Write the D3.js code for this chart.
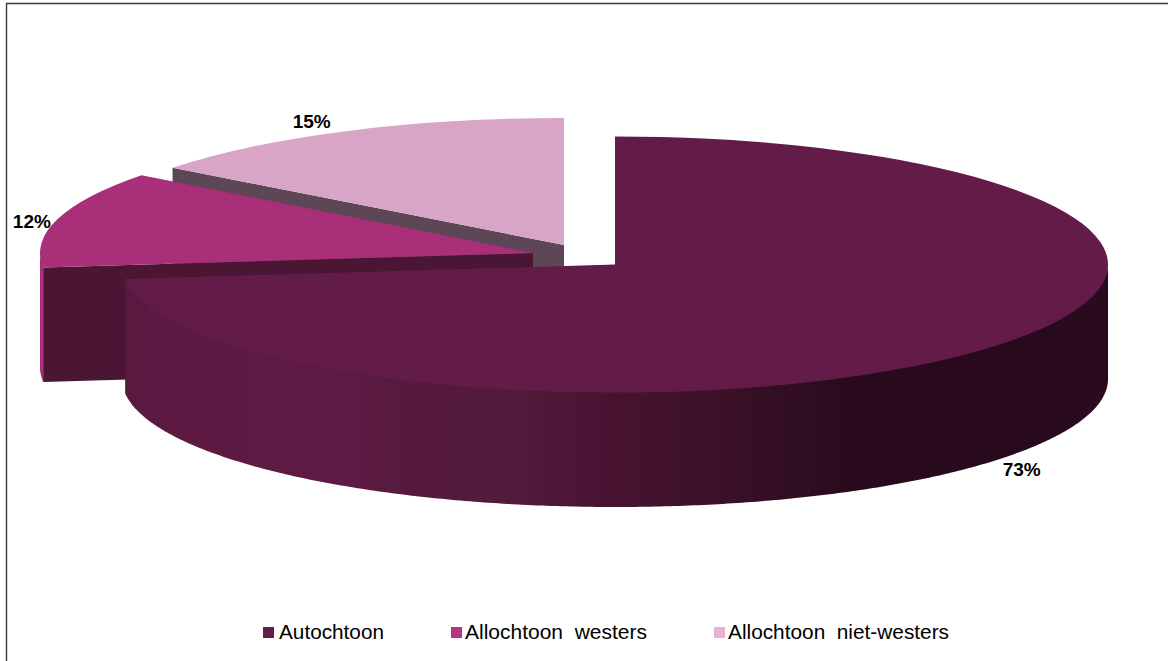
<!DOCTYPE html>
<html>
<head>
<meta charset="utf-8">
<script src="https://d3js.org/d3.v7.min.js"></script>
<style>
  html, body { margin: 0; padding: 0; background: #fff; }
  svg { display: block; }
  text { font-family: "Liberation Sans", Arial, sans-serif; fill: #000; }
  .pct { font-size: 19px; font-weight: bold; text-anchor: middle; }
  .legend { font-size: 21px; white-space: pre; }
</style>
</head>
<body>
<script>
var categories = ["Autochtoon", "Allochtoon  westers", "Allochtoon  niet-westers"];
var values = [73.2, 12.2, 14.6];
var valueLabels = ["73%", "12%", "15%"];

var topColors = ["#621c47", "#a82f78", "#d9a5c6"];
var faceColors = ["#4b1534", "#4b1534", "#5d4656"];
var legendColors = ["#651d4a", "#b83282", "#e8b3d3"];

//chart frame dimensions
var width = 1168,
    height = 661,
    rx = 493,
    ry = 128,
    depth = 114.5;

//exploded slices each have their own centre
var centers = [[615, 264.5], [533, 253], [564, 245]];
var labelShift = [[39, 6], [-26, 3], [-34, -9]];
var legendX = [263, 451, 714];
var legendTextX = [16, 14, 14];
var legendTextWidth = [105, 182, 221];

var svg = d3.select("body")
    .append("svg")
    .attr("width", width)
    .attr("height", height);

//gradient on the outer wall of the big slice
var grad = svg.append("defs").append("linearGradient")
    .attr("id", "wall")
    .attr("gradientUnits", "userSpaceOnUse")
    .attr("x1", 124).attr("x2", 1108)
    .attr("y1", 0).attr("y2", 0);
grad.selectAll("stop")
    .data([[0, "#58193f"], [0.03, "#5c1a42"], [0.23, "#5e1a44"], [0.29, "#561a3d"], [0.4, "#521a3b"],
           [0.49, "#481332"], [0.58, "#3f1229"], [0.7, "#2e0d20"], [0.75, "#280a1c"], [1, "#2a0a1e"]])
    .enter()
    .append("stop")
    .attr("offset", function(d){ return d[0]; })
    .attr("stop-color", function(d){ return d[1]; });

//frame, only left and top are in the picture
svg.append("path")
    .attr("d", "M6.5,661V3.5H1168")
    .attr("fill", "none")
    .attr("stroke", "#3a3a3a")
    .attr("stroke-width", 1.4);

var pie = d3.pie().sort(null)(values);

function px(c, a){ return c[0] + rx * Math.sin(a); }
function py(c, a){ return c[1] - (ry - (c === centers[2] ? 1 : 0)) * Math.cos(a); }

//flat top of a slice: a circular d3.arc squashed to an ellipse
var arc = d3.arc().innerRadius(0).outerRadius(rx);

function drawTop(i){
    var c = centers[i];
    svg.append("path")
        .attr("class", "top")
        .attr("transform", "translate(" + c[0] + "," + c[1] + ") scale(1," + (py(c, 0) - c[1]) / -rx + ")")
        .attr("d", arc(pie[i]))
        .attr("fill", topColors[i]);
}

//vertical cut face going from the slice centre to the rim at angle a
function drawFace(i, a){
    var c = centers[i];
    var line = d3.line();
    svg.append("path")
        .attr("d", line([
            [c[0], c[1]],
            [px(c, a), py(c, a)],
            [px(c, a), py(c, a) + depth],
            [c[0], c[1] + depth]
        ]) + "Z")
        .attr("fill", faceColors[i]);
}

//curved outer wall between two angles
function drawWall(i, a0, a1, fill){
    var c = centers[i];
    var angles = d3.range(a0, a1, 0.01).concat([a1]);
    //y0 runs a little under the top so no light seam shows between them
    var wall = d3.area()
        .x(function(a){ return px(c, a); })
        .y0(function(a){ return py(c, a) - 1.5; })
        .y1(function(a){ return py(c, a) + depth; });
    svg.append("path")
        .attr("d", wall(angles))
        .attr("fill", fill);
}

//back to front
drawFace(2, pie[2].startAngle);
drawTop(2);

drawFace(1, pie[1].startAngle);
drawWall(1, pie[1].startAngle, 1.5 * Math.PI, topColors[1]);
drawTop(1);

drawWall(0, Math.PI / 2, pie[0].endAngle, "url(#wall)");
drawTop(0);

//percent labels placed from the middle of each slice
svg.selectAll(".pct")
    .data(pie)
    .enter()
    .append("text")
    .attr("class", "pct")
    .attr("x", function(d, i){
        return px(centers[i], (d.startAngle + d.endAngle) / 2) + labelShift[i][0];
    })
    .attr("y", function(d, i){
        var a = (d.startAngle + d.endAngle) / 2;
        var wallDrop = Math.cos(a) < 0 ? depth : 0;
        return py(centers[i], a) + wallDrop + labelShift[i][1] + 6;
    })
    .text(function(d, i){ return valueLabels[i]; });

//legend
var legend = svg.selectAll(".legendItem")
    .data(categories)
    .enter()
    .append("g")
    .attr("class", "legendItem")
    .attr("transform", function(d, i){ return "translate(" + legendX[i] + ",627)"; });

legend.append("rect")
    .attr("width", 11)
    .attr("height", 11)
    .attr("fill", function(d, i){ return legendColors[i]; });

legend.append("text")
    .attr("class", "legend")
    .attr("x", function(d, i){ return legendTextX[i]; })
    .attr("y", 12)
    .attr("textLength", function(d, i){ return legendTextWidth[i]; })
    .attr("lengthAdjust", "spacingAndGlyphs")
    .text(function(d){ return d; });
</script>
</body>
</html>
